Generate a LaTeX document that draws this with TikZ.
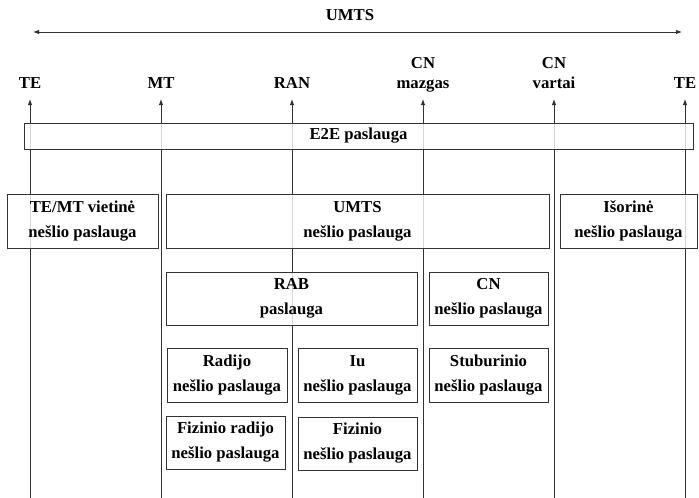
\documentclass[tikz,border=0pt]{standalone}
\usepackage{fontspec}
\setmainfont{Liberation Serif}
\usetikzlibrary{arrows.meta}
\definecolor{linegray}{RGB}{50, 50, 50}

\begin{document}
\begin{tikzpicture}[x=1pt, y=-1pt,
  box/.style  = {rectangle, draw=linegray, line width=0.9pt, fill=white,
                 fill opacity=0.8, text opacity=1, inner sep=0pt, align=center,
                 font=\fontsize{16.7}{25}\selectfont\bfseries},
  tag/.style  = {anchor=south, inner sep=0pt, text depth=0pt, align=center,
                 font=\fontsize{16.7}{20}\selectfont\bfseries},
  life/.style = {-{Latex[length=6pt,width=4.5pt]}, line width=0.9pt,
                 color=linegray, shorten >=10pt},
  span/.style = {{Latex[length=6pt,width=4.5pt]}-{Latex[length=6pt,width=4.5pt]},
                 line width=0.9pt, color=linegray}
]
  \useasboundingbox (0,0) rectangle (699,498);

  % ---- Top: UMTS span ----
  \node[tag] (umts) at (350,21) {UMTS};
  \coordinate (span-l) at (33,32);
  \coordinate (span-r) at (682,32);
  \draw[span] (span-l) -- (span-r);

  % ---- Points along the path ----
  \node[tag] (te1)  at (30,89)  {TE};
  \node[tag] (mt)   at (161,89) {MT};
  \node[tag] (ran)  at (292,89) {RAN};
  \node[tag] (cnm)  at (423,89) {CN\\mazgas};
  \node[tag] (cnv)  at (554,89) {CN\\vartai};
  \node[tag] (te2)  at (685,89) {TE};

  \coordinate (te1-bot) at (30,498);
  \coordinate (mt-bot)  at (161,498);
  \coordinate (ran-bot) at (292,498);
  \coordinate (cnm-bot) at (423,498);
  \coordinate (cnv-bot) at (554,498);
  \coordinate (te2-bot) at (685,498);

  % ---- Lifelines ----
  \draw[life] (te1-bot) -- (te1);
  \draw[life] (mt-bot)  -- (mt);
  \draw[life] (ran-bot) -- (ran);
  \draw[life] (cnm-bot) -- (cnm);
  \draw[life] (cnv-bot) -- (cnv);
  \draw[life] (te2-bot) -- (te2);

  % ---- Row 0: end-to-end ----
  \node[box, minimum width=669pt, minimum height=26pt] (e2e) at (358.5,136) {E2E paslauga};

  % ---- Row 1: bearer services ----
  \node[box, minimum width=151pt, minimum height=54pt] (local) at (82.5,221)  {TE/MT vietinė\\nešlio paslauga};
  \node[box, minimum width=383pt, minimum height=54pt] (umtsb) at (357.5,221) {UMTS\\nešlio paslauga};
  \node[box, minimum width=137pt, minimum height=54pt] (ext)   at (628.5,221) {Išorinė\\nešlio paslauga};

  % ---- Row 2: RAB / CN ----
  \node[box, minimum width=251pt, minimum height=53pt] (rab) at (291.5,298.5) {RAB\\paslauga};
  \node[box, minimum width=119pt, minimum height=53pt] (cnb) at (488.5,298.5) {CN\\nešlio paslauga};

  % ---- Row 3: radio / Iu / backbone ----
  \node[box, minimum width=120pt, minimum height=54pt] (radio) at (227,375)   {Radijo\\nešlio paslauga};
  \node[box, minimum width=119pt, minimum height=54pt] (iu)    at (357.5,375) {Iu\\nešlio paslauga};
  \node[box, minimum width=119pt, minimum height=54pt] (bb)    at (488.5,375) {Stuburinio\\nešlio paslauga};

  % ---- Row 4: physical ----
  \node[box, minimum width=119pt, minimum height=53pt] (phyr) at (225.5,442.5) {Fizinio radijo\\nešlio paslauga};
  \node[box, minimum width=119pt, minimum height=53pt] (phy)  at (357.5,443.5) {Fizinio\\nešlio paslauga};
\end{tikzpicture}
\end{document}
